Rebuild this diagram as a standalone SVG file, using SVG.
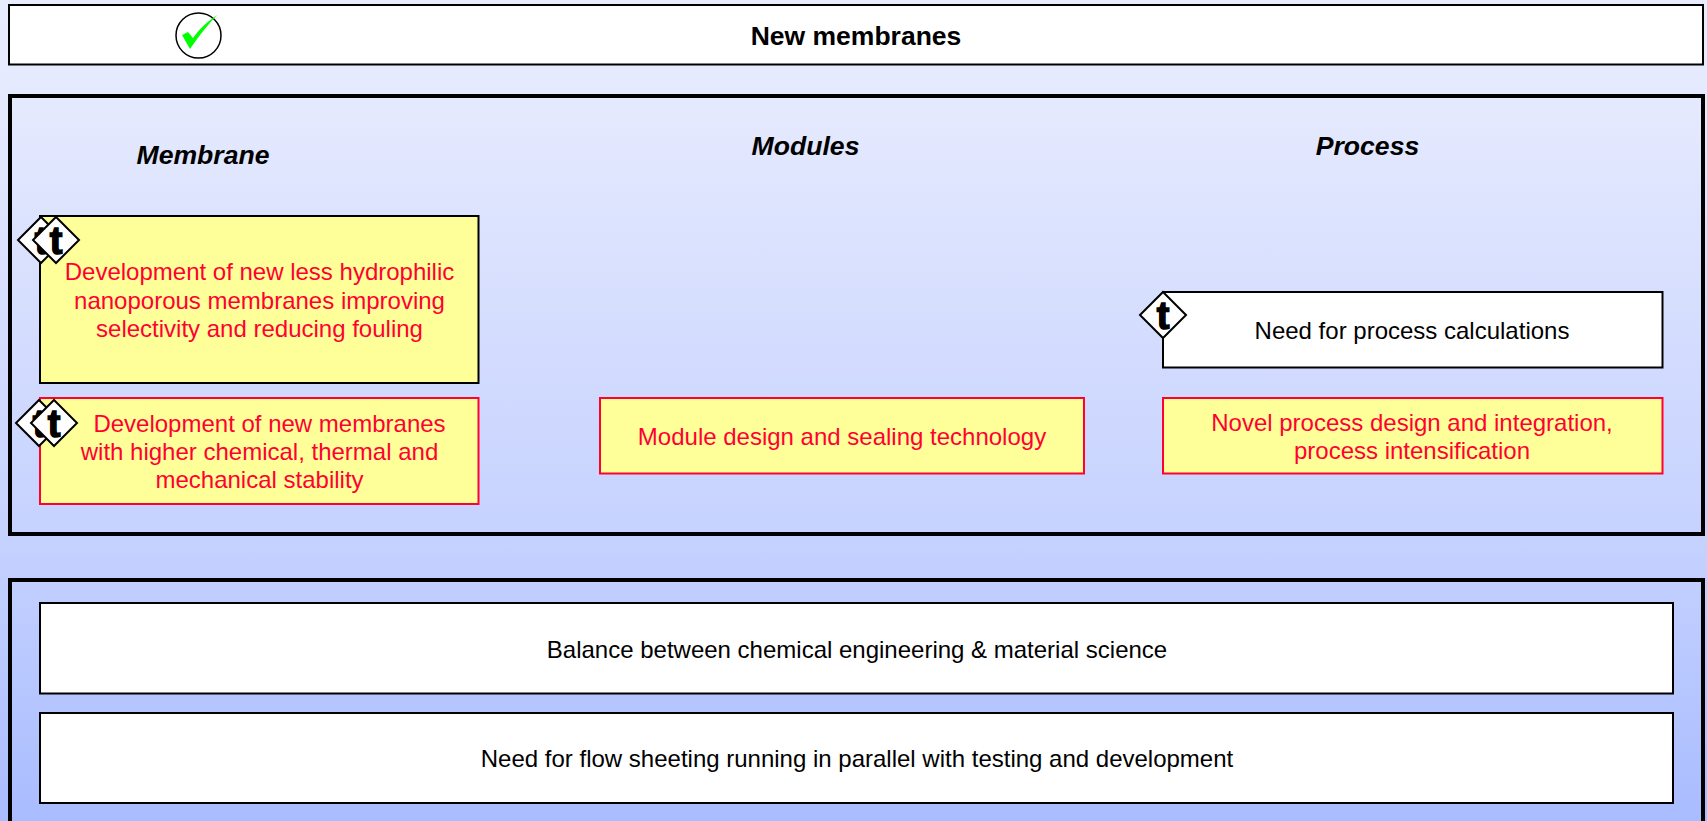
<svg xmlns="http://www.w3.org/2000/svg" width="1707" height="821" viewBox="0 0 1707 821">
<style>
text{font-family:"Liberation Sans",Arial,sans-serif;font-size:24px;text-anchor:middle}
.red{fill:#ff0033}
.head{font-size:26.6px;font-weight:bold;font-style:italic}
.panel{fill:none;stroke:#000;stroke-width:4}
.w{fill:#fff;stroke:#000;stroke-width:2}
.yb{fill:#ffff99;stroke:#000;stroke-width:2}
.yr{fill:#ffff99;stroke:#ff0033;stroke-width:2}
.dia{fill:#fff;stroke:#000;stroke-width:2}
.t{font-size:38px;font-weight:bold;fill:#000;stroke:#000;stroke-width:1.500}
</style>
<defs>
<linearGradient id="bg" gradientUnits="userSpaceOnUse" x1="0" y1="0" x2="0" y2="821"><stop offset="0" stop-color="#e8ecfe"/><stop offset="0.14" stop-color="#e4e9fe"/><stop offset="0.65" stop-color="#c6d2ff"/><stop offset="1" stop-color="#a9bcff"/></linearGradient>
<g id="tag"><path class="dia" d="M0,-23L23,0L0,23L-23,0Z"/><text class="t" x="0" y="14">t</text></g>
</defs>
<rect width="1707" height="821" fill="url(#bg)"/>
<g id="title"><rect class="w" x="9" y="5" width="1694" height="59.500"/><text x="856" y="45" font-weight="bold" style="font-size:26.500px">New membranes</text></g>
<g id="check"><circle cx="198.500" cy="35.500" r="22.500" fill="#fff" stroke="#000" stroke-width="1.500"/><path d="M182,35L188,32L193,38C200,28 208,21 217.500,15C211,21 201,33 190,49Z" fill="#00ff00"/></g>
<g id="panel-top"><rect class="panel" x="10" y="96" width="1693" height="438"/></g>
<g id="panel-bottom"><rect class="panel" x="10" y="580" width="1693" height="260"/></g>
<g id="head-membrane"><text class="head" x="203" y="164">Membrane</text></g>
<g id="head-modules"><text class="head" x="805.500" y="155">Modules</text></g>
<g id="head-process"><text class="head" x="1367.500" y="155">Process</text></g>
<g id="n1"><rect class="yb" x="40" y="216" width="438.500" height="167"/><text class="red" x="259.500" y="280">Development of new less hydrophilic</text><text class="red" x="259.500" y="309">nanoporous membranes improving</text><text class="red" x="259.500" y="337">selectivity and reducing fouling</text><use href="#tag" x="41" y="240"/><use href="#tag" x="56" y="240"/></g>
<g id="n2"><rect class="yr" x="40" y="398" width="438.500" height="106"/><text class="red" x="269.500" y="432">Development of new membranes</text><text class="red" x="259.500" y="460">with higher chemical, thermal and</text><text class="red" x="259.500" y="488">mechanical stability</text><use href="#tag" x="39" y="423"/><use href="#tag" x="54" y="423"/></g>
<g id="n3"><rect class="yr" x="600" y="398" width="484" height="75.500"/><text class="red" x="842" y="445">Module design and sealing technology</text></g>
<g id="n4"><rect class="w" x="1163" y="292" width="499.500" height="75.500"/><text x="1412" y="339">Need for process calculations</text><use href="#tag" x="1163" y="315"/></g>
<g id="n5"><rect class="yr" x="1163" y="398" width="499.500" height="75.500"/><text class="red" x="1412" y="431">Novel process design and integration,</text><text class="red" x="1412" y="459">process intensification</text></g>
<g id="n6"><rect class="w" x="40" y="603" width="1633" height="90.500"/><text x="857" y="658">Balance between chemical engineering &amp; material science</text></g>
<g id="n7"><rect class="w" x="40" y="713" width="1633" height="90"/><text x="857" y="767">Need for flow sheeting running in parallel with testing and development</text></g>
<g id="connectors"/>
</svg>
